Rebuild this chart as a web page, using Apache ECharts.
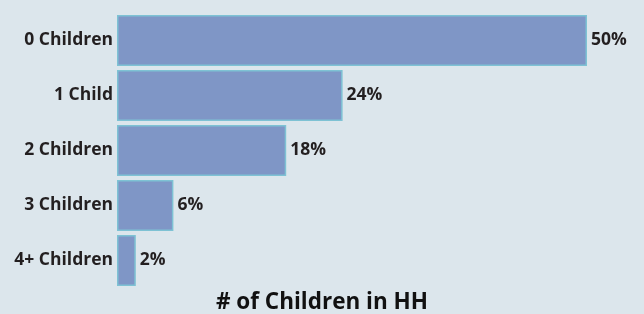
<!DOCTYPE html>
<html>
<head>
<meta charset="utf-8">
<script src="https://cdn.jsdelivr.net/npm/echarts@6/dist/echarts.min.js"></script>
<style>
html, body { margin: 0; padding: 0; background: #dce6ec; }
#chart { width: 644px; height: 314px; }
</style>
</head>
<body>
<div id="chart"></div>
<script>
var categories = ['0 Children', '1 Child', '2 Children', '3 Children', '4+ Children'];
var shares = [50, 24, 18, 6, 2];

var myChart = echarts.init(document.getElementById('chart'));
var option = {
    backgroundColor: '#dce6ec',
    title: {
        text: '# of Children in HH',
        left: 'center',
        top: 286,
        textStyle: { fontFamily: 'Open Sans', fontWeight: 'bold', fontSize: 22.5, color: '#111' }
    },
    grid: { left: 117, right: 57, top: 13, bottom: 26 },
    xAxis: {
        type: 'value',
        min: 0,
        max: 50,
        show: false
    },
    yAxis: {
        type: 'category',
        data: categories,
        inverse: true,
        axisLine: { show: false },
        axisTick: { show: false },
        axisLabel: {
            margin: 4,
            fontFamily: 'Open Sans',
            fontWeight: 'bold',
            fontSize: 17.5,
            color: '#231f20'
        }
    },
    series: [{
        type: 'bar',
        data: shares,
        barCategoryGap: '7%',
        itemStyle: { color: '#7f96c6', borderColor: '#7ec2d4', borderWidth: 1.5 },
        label: {
            show: true,
            position: 'right',
            distance: 4,
            formatter: '{c}%',
            fontFamily: 'Open Sans',
            fontWeight: 'bold',
            fontSize: 17.5,
            color: '#231f20'
        }
    }]
};
myChart.setOption(option);
</script>
</body>
</html>
